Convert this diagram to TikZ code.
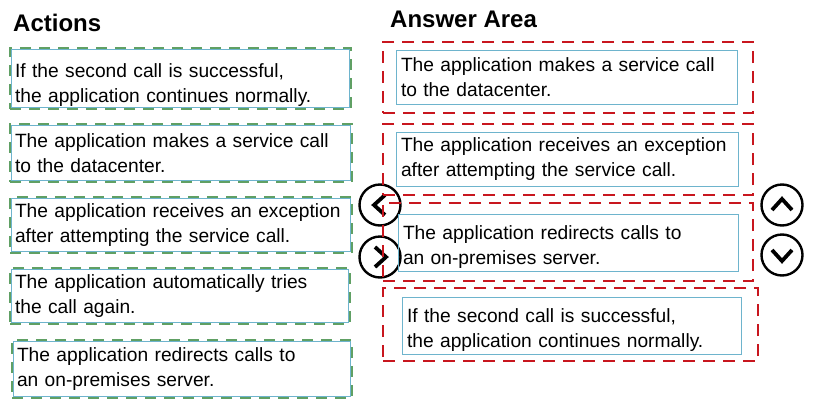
\documentclass[tikz,border=0pt]{standalone}
\usepackage{fontspec}
\setmainfont{Liberation Sans}
\usetikzlibrary{calc}
\usetikzlibrary{positioning}
\hyphenpenalty=10000
\definecolor{actgreen}{RGB}{96,160,100}
\definecolor{slotred}{RGB}{200,22,30}
\definecolor{cardblue}{RGB}{110,180,205}
\tikzset{
	title/.style={
		anchor=base west,
		inner sep=0pt,
		font=\fontsize{24}{28}\selectfont\bfseries},
	actcard/.style={
		rectangle,
		draw=actgreen, line width=1.6pt,
		dash pattern=on 11pt off 8pt,
		inner xsep=5pt, inner ysep=0pt,
		align=left,
		font=\fontsize{19.2}{25}\selectfont},
	cardline/.style={draw=cardblue, line width=0.8pt},
	anscard/.style={
		rectangle,
		draw=cardblue, line width=0.9pt,
		inner xsep=5pt, inner ysep=0pt,
		align=left,
		font=\fontsize{19.2}{25}\selectfont},
	sinktext/.style={execute at begin node={\rule{0pt}{#1}}},
	slot/.style={
		rectangle,
		draw=slotred, line width=2.2pt,
		dash pattern=on 12pt off 8pt},
	roundbtn/.style={
		circle,
		draw=black, line width=2.4pt,
		minimum size=41pt, inner sep=0pt},
	chevron/.style={draw=black, line width=3.8pt, line join=miter},
}
\begin{document}
\begin{tikzpicture}[x=1pt,y=-1pt]
		\useasboundingbox (0,0) rectangle (814,410);
		\node[title] (acttitle) at (13,31) {Actions};
		\node[title] (anstitle) at (390,27) {Answer Area};
		% actions
		\node[actcard, sinktext=27pt, minimum width=341pt, minimum height=61pt, text width=331pt] (act1) at (180.5,78.5)
			{If the second call is successful,\\the application continues normally.};
		\node[actcard, minimum width=342pt, minimum height=58pt, text width=332pt] (act2) at (181,153)
			{The application makes a service call\\to the datacenter.};
		\node[actcard, minimum width=342pt, minimum height=56pt, text width=332pt] (act3) at (181,225)
			{The application receives an exception\\after attempting the service call.};
		\node[actcard, minimum width=340pt, minimum height=56pt, text width=330pt] (act4) at (180,296)
			{The application automatically tries\\the call again.};
		\node[actcard, minimum width=340pt, minimum height=58pt, text width=330pt] (act5) at (182,369)
			{The application redirects calls to\\an on-premises server.};
		\foreach \n in {act1,act2,act3,act4,act5}
			\draw[cardline] ([shift={(2,2)}]\n.north west) rectangle ([shift={(-2,-2)}]\n.south east);
		% buttons
		\node[roundbtn] (left) at (380,205) {};
		\node[roundbtn] (right) at (380,257) {};
		\node[roundbtn] (up) at (782,205) {};
		\node[roundbtn] (down) at (782,255) {};
		\draw[chevron] ($(left)+(5,-10)$) -- ($(left)+(-6,0)$) -- ($(left)+(5,10)$);
		\draw[chevron] ($(right)+(-5,-10)$) -- ($(right)+(6,0)$) -- ($(right)+(-5,10)$);
		\draw[chevron] ($(up)+(-10,5)$) -- ($(up)+(0,-6)$) -- ($(up)+(10,5)$);
		\draw[chevron] ($(down)+(-10,-5)$) -- ($(down)+(0,6)$) -- ($(down)+(10,-5)$);
		% answer area
		\node[slot, minimum width=370pt, minimum height=71pt] (slot1) at (568,77.5) {};
		\node[slot, minimum width=370pt, minimum height=71pt] (slot2) at (568,159.5) {};
		\node[slot, minimum width=370pt, minimum height=78pt] (slot3) at (568,242) {};
		\node[slot, minimum width=375pt, minimum height=73pt] (slot4) at (570.5,324.5) {};
		\node[anscard, minimum width=341pt, minimum height=54pt, text width=331pt] (ans1) at (566.5,77)
			{The application makes a service call\\to the datacenter.};
		\node[anscard, minimum width=342pt, minimum height=54pt, text width=332pt] (ans2) at (567,159)
			{The application receives an exception\\after attempting the service call.};
		\node[anscard, sinktext=23pt, minimum width=340pt, minimum height=57pt, text width=330pt] (ans3) at (568,242.5)
			{The application redirects calls to\\an on-premises server.};
		\node[anscard, sinktext=23pt, minimum width=339pt, minimum height=57pt, text width=329pt] (ans4) at (571.5,325.5)
			{If the second call is successful,\\the application continues normally.};
\end{tikzpicture}
\end{document}
